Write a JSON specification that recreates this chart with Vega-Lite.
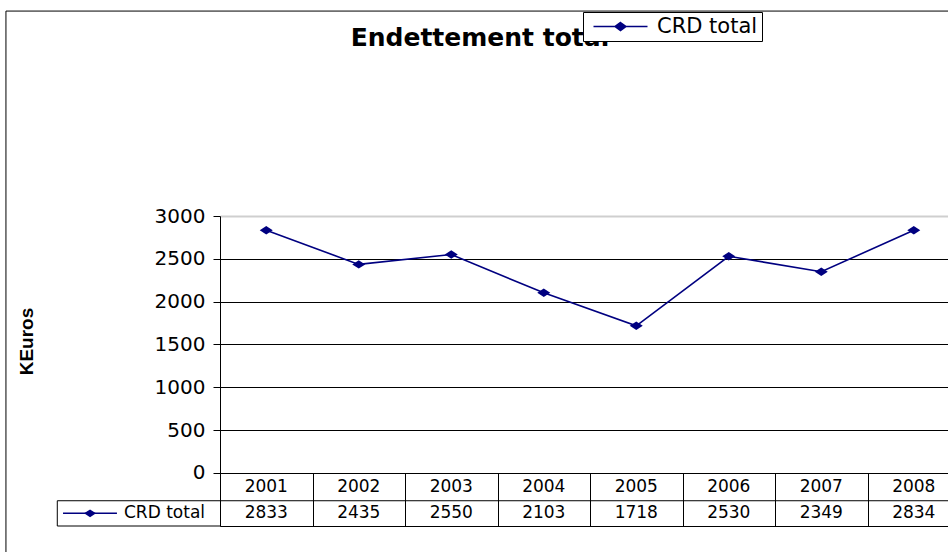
{
  "$schema": "https://vega.github.io/schema/vega-lite/v6.json",
  "width": 728,
  "height": 310,
  "autosize": {"type": "none"},
  "padding": {"left": 220, "top": 216, "right": 0, "bottom": 26},
  "background": "white",
  "config": {"view": {"stroke": null}, "font": "DejaVu Sans"},
  "data": {
    "values": [
      {"year": 2001, "value": 2833, "series": "CRD total"},
      {"year": 2002, "value": 2435, "series": "CRD total"},
      {"year": 2003, "value": 2550, "series": "CRD total"},
      {"year": 2004, "value": 2103, "series": "CRD total"},
      {"year": 2005, "value": 1718, "series": "CRD total"},
      {"year": 2006, "value": 2530, "series": "CRD total"},
      {"year": 2007, "value": 2349, "series": "CRD total"},
      {"year": 2008, "value": 2834, "series": "CRD total"}
    ]
  },
  "layer": [
    {
      "data": {"values": [{}]},
      "mark": {"type": "rect", "fill": "white", "fillOpacity": 0, "stroke": "black", "strokeWidth": 1},
      "encoding": {
        "x": {"datum": 1998.186, "type": "quantitative", "scale": {"domain": [2000.5, 2008.37], "zero": false, "nice": false},
          "axis": {"orient": "bottom", "values": [2000.5, 2001.5, 2002.5, 2003.5, 2004.5, 2005.5, 2006.5, 2007.5], "tickSize": -53, "tickColor": "black", "tickWidth": 1, "domainColor": "black", "labels": false, "title": null, "grid": false}},
        "x2": {"datum": 2010},
        "y": {"datum": 5393, "type": "quantitative", "scale": {"domain": [-620, 3000], "zero": false, "nice": false},
          "axis": {"values": [0, 500, 1000, 1500, 2000, 2500, 3000], "format": "d", "grid": true,
            "gridColor": {"condition": {"test": "datum.value === 3000", "value": "#cfcfcf"}, "value": "black"},
            "gridWidth": {"condition": {"test": "datum.value === 3000", "value": 2}, "value": 1},
            "tickSize": 7, "tickColor": "black", "domainColor": "black",
            "labelFont": "DejaVu Sans", "labelFontSize": 20, "labelColor": "black", "labelPadding": 8,
            "title": "KEuros", "titleFont": "Liberation Sans", "titleFontWeight": "bold", "titleFontSize": 19,
            "titleAngle": -90, "titleX": -194, "titleY": 125, "titleAlign": "center", "titleBaseline": "middle", "titleColor": "black"}},
        "y2": {"datum": -1500}
      }
    },
    {
      "data": {"values": [{}]},
      "mark": {"type": "text", "text": "Endettement total", "font": "DejaVu Sans", "fontWeight": "bold", "fontSize": 25, "align": "center", "baseline": "alphabetic", "color": "black"},
      "encoding": {
        "x": {"datum": 2003.31, "type": "quantitative"},
        "y": {"datum": 4984, "type": "quantitative"}
      }
    },
    {
      "mark": {"type": "line", "strokeWidth": 1.6},
      "encoding": {
        "x": {"field": "year", "type": "quantitative"},
        "y": {"field": "value", "type": "quantitative"},
        "color": {"field": "series", "type": "nominal", "scale": {"range": ["#000080"]},
          "legend": {"orient": "none", "legendX": 363, "legendY": -204, "title": null,
            "symbolType": "M-3,0L3,0M0,-0.44L0.61,0L0,0.44L-0.61,0Z", "symbolSize": 324, "symbolStrokeWidth": 1.5,
            "symbolStrokeColor": "#000080", "symbolFillColor": "#000080", "symbolOffset": 23,
            "labelFont": "DejaVu Sans", "labelFontSize": 21, "labelColor": "black", "labelOffset": 26,
            "strokeColor": "black", "fillColor": "white", "padding": 4,
            "encode": {"symbols": {"update": {"fill": {"value": "#000080"}, "stroke": {"value": "#000080"}}}}}}
      }
    },
    {
      "mark": {"type": "point", "shape": "M-1,0L0,-0.65L1,0L0,0.65Z", "size": 169, "filled": true, "color": "#000080", "opacity": 1},
      "encoding": {
        "x": {"field": "year", "type": "quantitative"},
        "y": {"field": "value", "type": "quantitative"}
      }
    },
    {
      "mark": {"type": "text", "font": "DejaVu Sans", "fontSize": 17, "color": "black", "align": "center", "baseline": "middle"},
      "encoding": {
        "x": {"field": "year", "type": "quantitative"},
        "y": {"datum": -162, "type": "quantitative"},
        "text": {"field": "year", "type": "nominal"}
      }
    },
    {
      "mark": {"type": "text", "font": "DejaVu Sans", "fontSize": 17, "color": "black", "align": "center", "baseline": "middle"},
      "encoding": {
        "x": {"field": "year", "type": "quantitative"},
        "y": {"datum": -472, "type": "quantitative"},
        "text": {"field": "value", "type": "nominal"}
      }
    },
    {
      "data": {"values": [{}]},
      "mark": {"type": "rule", "color": "black", "strokeWidth": 1},
      "encoding": {
        "x": {"datum": 1998.741, "type": "quantitative"},
        "x2": {"datum": 2008.37},
        "y": {"datum": -325, "type": "quantitative"}
      }
    },
    {
      "data": {"values": [{}]},
      "mark": {"type": "rule", "color": "black", "strokeWidth": 1},
      "encoding": {
        "x": {"datum": 1998.741, "type": "quantitative"},
        "x2": {"datum": 2000.5},
        "y": {"datum": -620, "type": "quantitative"}
      }
    },
    {
      "data": {"values": [{}]},
      "mark": {"type": "rule", "color": "black", "strokeWidth": 1},
      "encoding": {
        "x": {"datum": 1998.741, "type": "quantitative"},
        "y": {"datum": -325, "type": "quantitative"},
        "y2": {"datum": -620}
      }
    },
    {
      "data": {"values": [{}]},
      "mark": {"type": "rule", "color": "#000080", "strokeWidth": 1.5},
      "encoding": {
        "x": {"datum": 1998.803, "type": "quantitative"},
        "x2": {"datum": 1999.386},
        "y": {"datum": -472, "type": "quantitative"}
      }
    },
    {
      "data": {"values": [{}]},
      "mark": {"type": "point", "shape": "M-1,0L0,-0.65L1,0L0,0.65Z", "size": 144, "filled": true, "color": "#000080", "opacity": 1},
      "encoding": {
        "x": {"datum": 1999.095, "type": "quantitative"},
        "y": {"datum": -472, "type": "quantitative"}
      }
    },
    {
      "data": {"values": [{}]},
      "mark": {"type": "text", "text": "CRD total", "font": "DejaVu Sans", "fontSize": 17, "color": "black", "align": "left", "baseline": "middle"},
      "encoding": {
        "x": {"datum": 1999.462, "type": "quantitative"},
        "y": {"datum": -472, "type": "quantitative"}
      }
    }
  ]
}
